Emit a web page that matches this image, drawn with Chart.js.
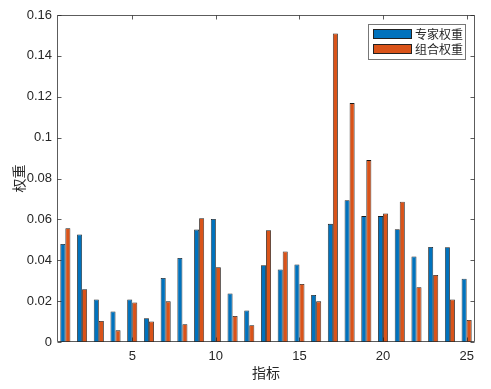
<!DOCTYPE html>
<html>
<head>
<meta charset="utf-8">
<script src="https://cdn.jsdelivr.net/npm/chart.js@4/dist/chart.umd.min.js"></script>
<style>
  html, body { margin: 0; padding: 0; background: #fff; }
  #wrap { width: 491px; height: 389px; }
</style>
</head>
<body>
<div id="wrap"><canvas id="c" width="491" height="389"></canvas></div>
<script>
const categories = ['1','2','3','4','5','6','7','8','9','10','11','12','13','14','15','16','17','18','19','20','21','22','23','24','25'];
const seriesNames = ['专家权重', '组合权重'];
const expertWeights = [0.0480, 0.0526, 0.0208, 0.0149, 0.0208, 0.0116, 0.0313, 0.0411, 0.0550, 0.0602, 0.0237, 0.0154, 0.0376, 0.0355, 0.0379, 0.0230, 0.0578, 0.0694, 0.0616, 0.0616, 0.0552, 0.0418, 0.0465, 0.0464, 0.0310];
const combinedWeights = [0.0557, 0.0258, 0.0103, 0.0057, 0.0193, 0.0100, 0.0199, 0.0087, 0.0606, 0.0366, 0.0127, 0.0082, 0.0547, 0.0443, 0.0284, 0.0199, 0.1510, 0.1169, 0.0890, 0.0629, 0.0686, 0.0268, 0.0328, 0.0208, 0.0108];
const yTicks = [0, 0.02, 0.04, 0.06, 0.08, 0.1, 0.12, 0.14, 0.16];
const xTickLabels = ['5', '10', '15', '20', '25'];
const xTitle = '指标';
const yTitle = '权重';

const AX = '#262626';
const colors = ['#0072BD', '#D95319'];

const framePlugin = {
  id: 'frame',
  afterDraw(chart) {
    const {ctx, chartArea: a, scales} = chart;
    const L = Math.round(a.left) + 0.5, R = Math.round(a.right) - 0.5;
    const T = Math.round(a.top) + 0.5, B = Math.round(a.bottom) - 0.5;
    ctx.save();
    ctx.strokeStyle = AX;
    ctx.lineWidth = 1;
    ctx.globalAlpha = 0.75;
    ctx.beginPath();
    ctx.rect(L, T, R - L, B - T);
    const tl = 4;
    yTicks.forEach(v => {
      const y = Math.round(scales.y.getPixelForValue(v)) + 0.5;
      ctx.moveTo(L, y); ctx.lineTo(L + tl, y);
      ctx.moveTo(R, y); ctx.lineTo(R - tl, y);
    });
    xTickLabels.forEach(lbl => {
      const x = Math.round(scales.x.getPixelForValue(categories.indexOf(lbl))) + 0.5;
      ctx.moveTo(x, B); ctx.lineTo(x, B - tl);
      ctx.moveTo(x, T); ctx.lineTo(x, T + tl);
    });
    ctx.stroke();
    ctx.globalAlpha = 1;

    // legend
    const lx = 368.5, ly = 24.5, lw = 97, lh = 35;
    ctx.fillStyle = '#fff';
    ctx.fillRect(lx, ly, lw, lh);
    ctx.strokeStyle = '#777';
    ctx.strokeRect(lx, ly, lw, lh);
    chart.data.datasets.forEach((ds, i) => {
      const sy = 29 + i * 15;
      ctx.fillStyle = ds.backgroundColor;
      ctx.fillRect(373, sy, 39, 10);
      ctx.strokeStyle = '#222';
      ctx.strokeRect(373.5, sy + 0.5, 38, 9);
      ctx.fillStyle = AX;
      ctx.font = '12px "Noto Sans CJK SC"';
      ctx.textBaseline = 'middle';
      ctx.textAlign = 'left';
      ctx.fillText(ds.label, 415, sy + 5.5);
    });
    ctx.restore();
  }
};

new Chart(document.getElementById('c'), {
  type: 'bar',
  data: {
    labels: categories,
    datasets: [
      { label: seriesNames[0], data: expertWeights, backgroundColor: colors[0], borderColor: '#1a1a1a', borderWidth: 0.8 },
      { label: seriesNames[1], data: combinedWeights, backgroundColor: colors[1], borderColor: '#1a1a1a', borderWidth: 0.8 }
    ]
  },
  options: {
    responsive: false,
    animation: false,
    devicePixelRatio: 1,
    layout: { padding: { left: 0, right: 16, top: 15, bottom: 0 } },
    datasets: { bar: { categoryPercentage: 0.6, barPercentage: 1.0 } },
    plugins: { legend: { display: false }, tooltip: { enabled: false } },
    scales: {
      x: {
        offset: true,
        grid: { display: false, drawTicks: false },
        border: { display: false },
        ticks: {
          autoSkip: false, maxRotation: 0, padding: 7,
          color: AX, font: { family: 'Liberation Sans', size: 13 },
          callback: function(v, i) { const l = categories[i]; return xTickLabels.includes(l) ? l : ''; }
        },
        title: { display: true, text: xTitle, color: AX, font: { family: 'Noto Sans CJK SC', size: 14 }, padding: { top: 0, bottom: 8 } },
        afterFit(s) { s.height = 47; }
      },
      y: {
        min: 0, max: 0.16,
        grid: { display: false, drawTicks: false },
        border: { display: false },
        afterBuildTicks(s) { s.ticks = yTicks.map(v => ({ value: v })); },
        ticks: {
          padding: 5, color: AX, font: { family: 'Liberation Sans', size: 13 },
          callback: v => String(+(+v).toFixed(2))
        },
        title: { display: true, text: yTitle, color: AX, font: { family: 'Noto Sans CJK SC', size: 14 }, padding: { top: 10, bottom: 0 } },
        afterFit(s) { s.width = 57; }
      }
    }
  },
  plugins: [framePlugin]
});
</script>
</body>
</html>
